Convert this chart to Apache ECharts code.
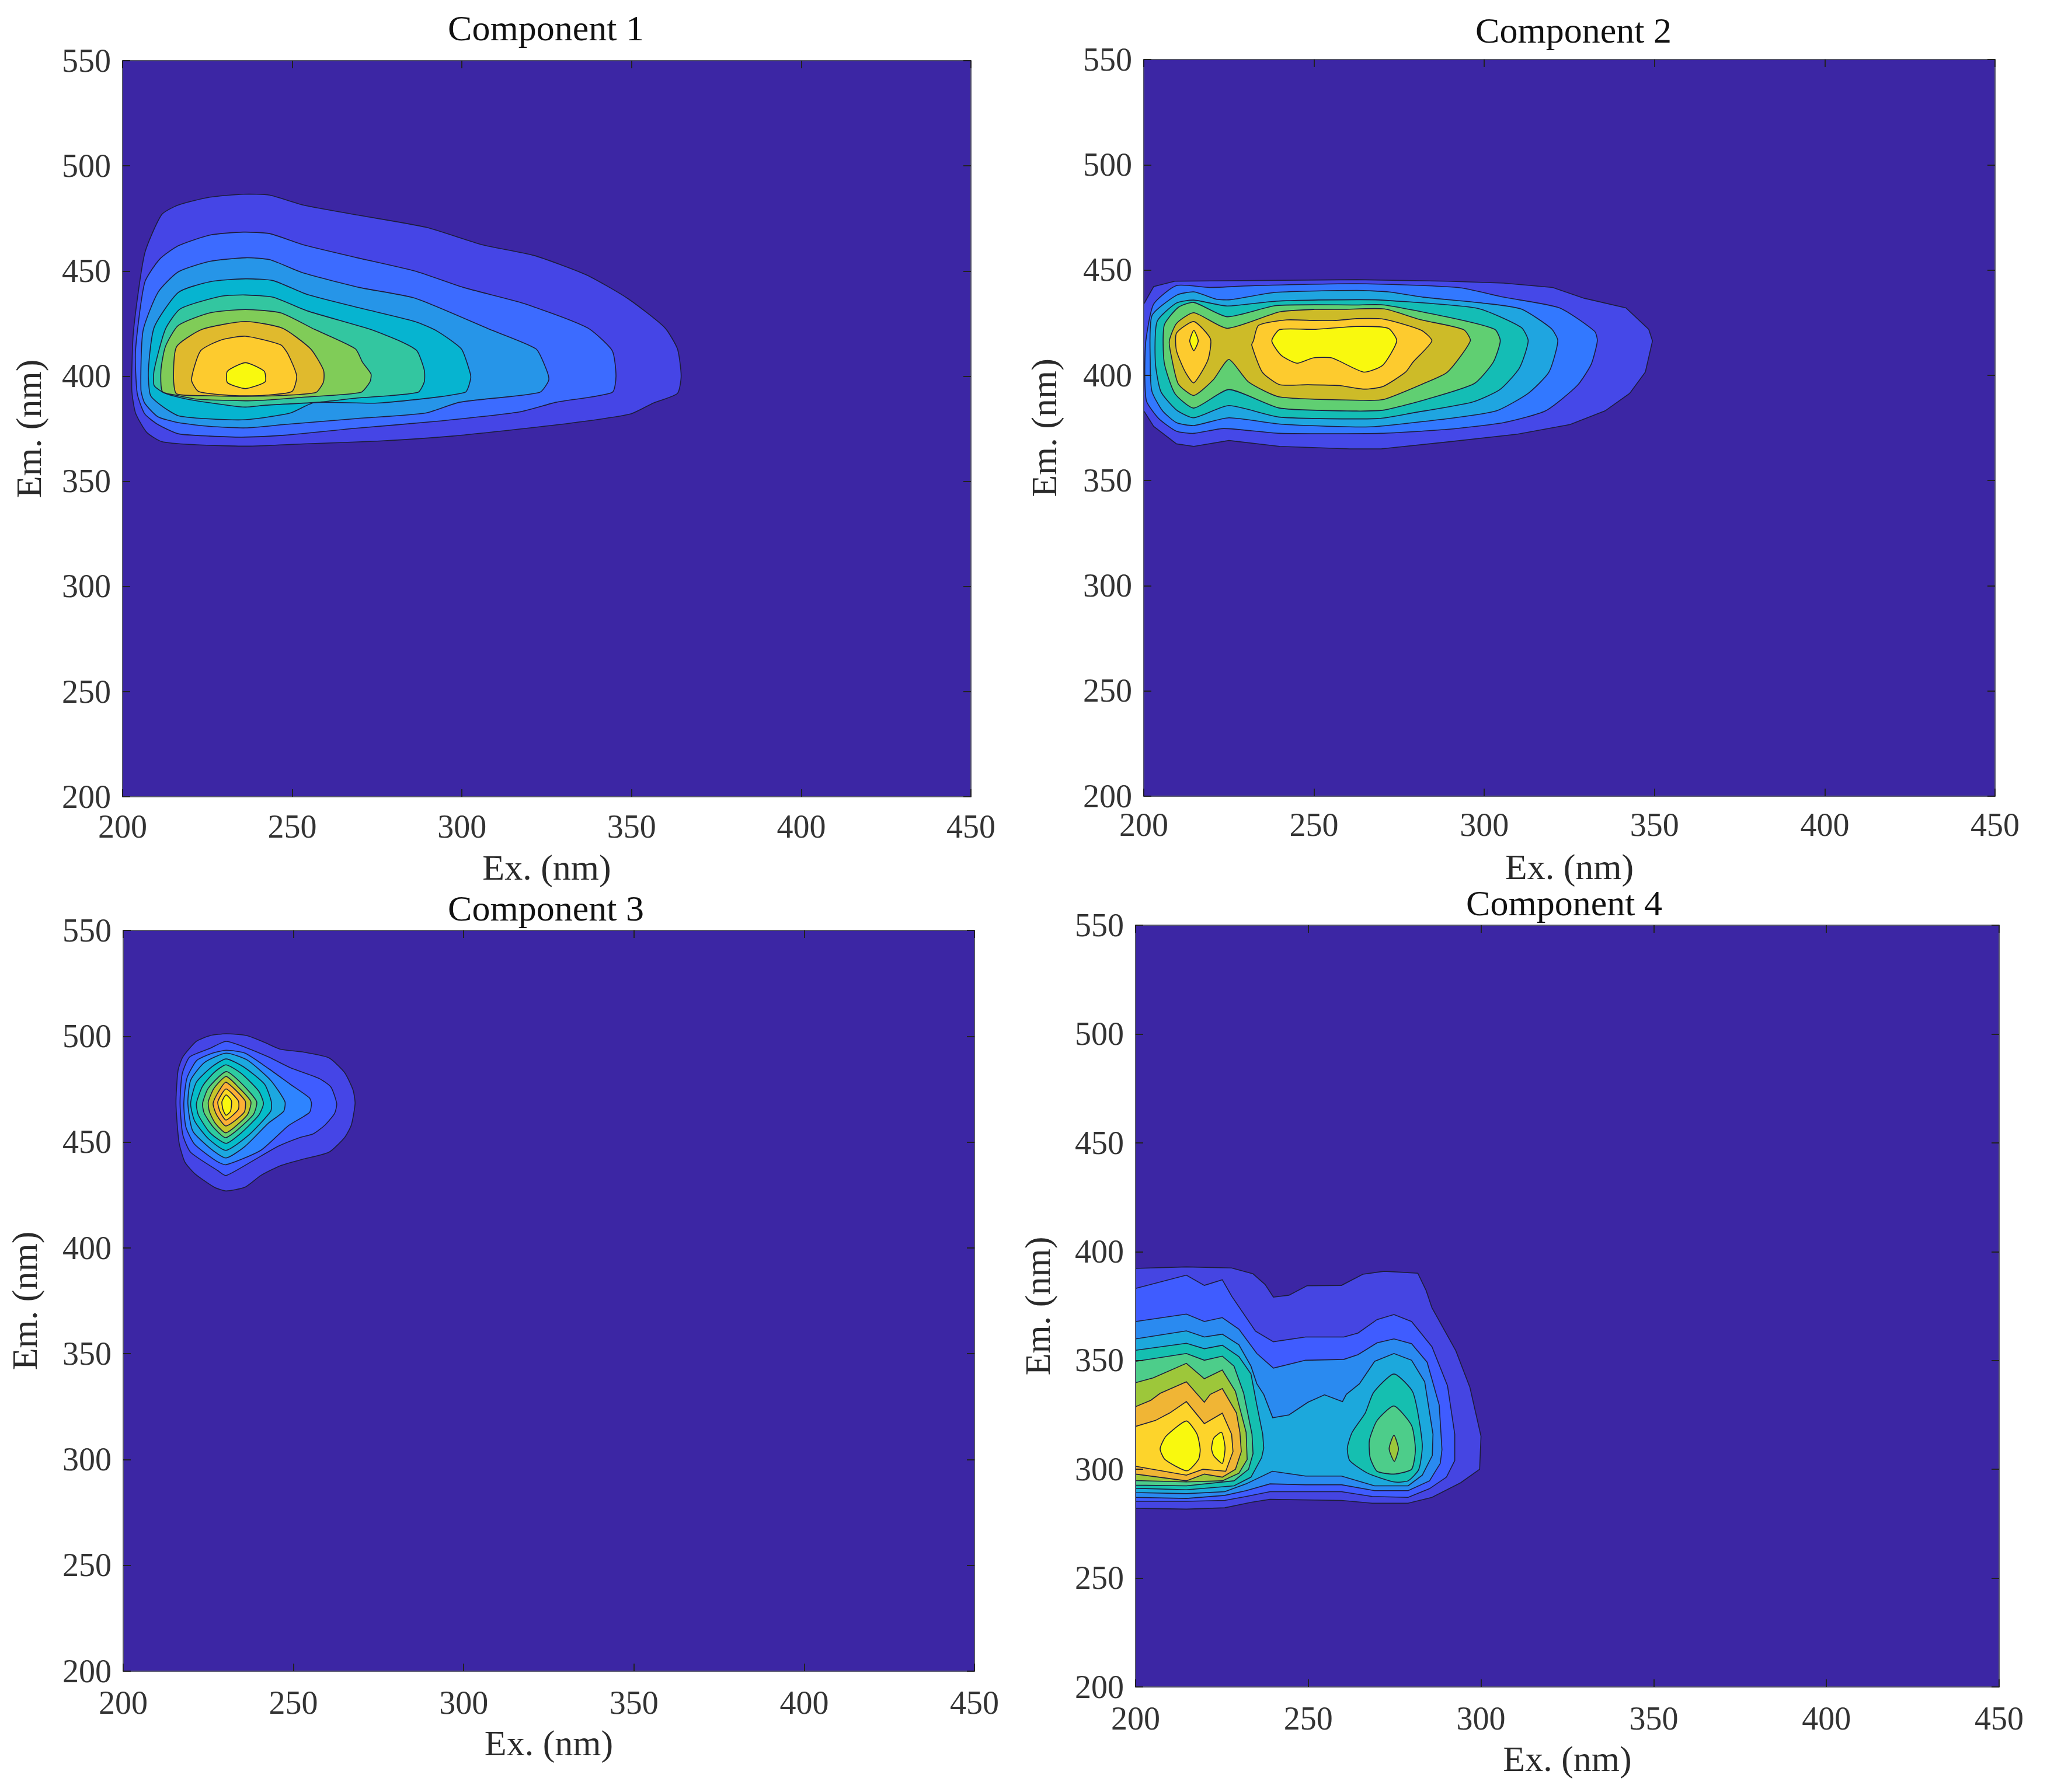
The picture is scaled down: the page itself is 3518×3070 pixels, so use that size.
<!DOCTYPE html>
<html><head><meta charset="utf-8">
<style>html,body{margin:0;padding:0;background:#fff}#c{width:3518px;height:3070px}</style>
<script src="https://cdn.jsdelivr.net/npm/echarts@6/dist/echarts.min.js"></script>
</head><body><div id="c"></div>
<script>
const titles=['Component 1','Component 2','Component 3','Component 4'];
const exRange=[200,450], emRange=[200,550], tickStep=50;

// Contour outlines as [Ex nm, Em nm]. Component 1
const c1L1=[[235.6,486.5],[243.3,486.1],[253.2,481.4],[268.6,476.8],[289.4,470.8],[305.9,462.5],[321.2,457.4],[336.6,448.2],[348.7,437.1],[359.7,423.2],[363.5,413],[364.6,400.1],[363.5,391.8],[356.4,387.2],[349.8,382.1],[335.5,378.4],[319,375.2],[297.1,371.5],[275.1,369.1],[253.2,367.8],[236.7,366.7],[220.3,367.5],[211.5,368.9],[207.1,373.3],[203.8,382.5],[202.7,393.6],[203.2,421.4],[206.5,458.3],[211.5,476.8],[216.4,481.4],[225.7,485.1]];
const c1L2=[[235.6,468.5],[243.3,467.8],[253.2,462.5],[268.6,456.5],[286.1,450],[300.4,442.2],[316.9,435.2],[330,427.8],[337.7,422.3],[344.3,412.1],[345.4,400.1],[344.3,392.3],[327.8,387.6],[316.9,383],[291.6,378.4],[268.6,375.2],[247.7,371.9],[235.6,371],[225.7,371.5],[216.4,372.6],[210.4,377],[206.5,382.1],[204.3,391.8],[203.8,412.1],[206.5,444.5],[210.9,455.6],[216.4,462],[225.7,467.1]];
const c1L3=[[236.2,456.3],[243.3,455.4],[253.2,449.1],[269.7,442.2],[286.1,437.1],[308.1,422.3],[321.8,413],[324.5,404.7],[325.6,398.3],[322.9,392.3],[299.3,387.6],[289.4,382.5],[268.6,379.8],[247.7,377],[236.2,375.4],[225.7,376.1],[216.4,377.9],[210.4,380.7],[206.5,387.2],[205.4,393.6],[206,421.4],[210.4,439.8],[216.4,449.6],[225.7,454.6]];
const c1L4=[[236.2,446.3],[244.4,445.4],[254.3,438.9],[269.7,432.5],[286.1,426],[292.7,421.4],[299.8,413],[302,403.8],[302.6,399.2],[300.9,392.3],[275.1,387.2],[256.5,387.4],[249.3,382.4],[236.2,379.3],[224.6,379.8],[216.4,381.2],[212,385.3],[208.2,390.9],[207.6,402.9],[209.3,423.2],[216.4,439.8],[225.7,444.9]];
const c1L5=[[236.2,438.6],[244.4,437.5],[254.3,431.1],[272.9,422.3],[281.7,416.7],[286.7,412.1],[288.9,402.9],[288.9,397.3],[287,392.3],[268.6,389.5],[257.6,387.6],[242.2,386.2],[236.2,385.3],[231.2,386.1],[219.2,389],[212.6,391.8],[209.3,395.5],[209.3,402.9],[212.6,422.3],[217,432],[229,438]];
const c1L6=[[236.2,431.7],[246.6,430.1],[256.5,422.3],[268.6,413],[270.7,406.6],[273.2,401],[272.9,397.3],[270.2,392.3],[253.2,390],[242.2,388.6],[236.2,388.3],[222.4,389],[215.9,390.9],[211.7,392.7],[211.3,402.9],[212.6,414],[216.4,424.1],[225.7,430.1]];
const c1L7=[[236.2,426],[247.1,422.8],[255.4,413],[259.2,402.9],[259.2,397.3],[257,392.3],[247.7,390.9],[236.2,390.4],[225.7,390.7],[215.9,391.6],[215,399.2],[215.9,414],[223.5,422.3]];
const c1L8=[[236.2,419],[246.6,414.9],[248.8,410.3],[251.3,400.1],[249.9,392.7],[241.7,390.9],[236.2,390.7],[231.2,390.9],[222.4,392.7],[220.3,398.3],[223,412.1],[229,417.2]];
const c1L9=[[236.2,406.4],[241.7,402.4],[242,397.3],[236.2,394.1],[230.9,396.9],[230.9,402.4]];

// Component 2
const c2L1=[[200,433.8],[202.9,442.1],[209.1,444.7],[262.5,445.4],[289.2,444.7],[305.7,443.8],[320.1,441.7],[329.3,436.6],[341.6,432],[348.3,421.8],[349.4,416.3],[347.3,401.5],[342.7,391.4],[335.5,383.1],[325.2,376.6],[309.8,372],[289.2,368.3],[269.7,365],[260.5,365],[239.9,366.2],[225,369],[214.7,366.2],[209.6,367.4],[202.9,375.7],[200,383.1]];
const c2L2=[[209.6,442.6],[219.3,441.7],[232.7,442.6],[262.5,443.5],[292.3,441.7],[305.7,437.1],[322.1,432],[332.4,420.9],[333.2,416.3],[331.4,405.2],[327.3,395.1],[318,383.1],[305.7,377.5],[289.2,374.3],[269.7,372.4],[239.9,372.4],[223.5,374.7],[214.7,372.4],[209.6,373.4],[204.4,379.4],[200.8,387.7],[200.3,400.6],[200.6,416.3],[202.9,433.8]];
const c2L3=[[209.6,438],[214.7,439.6],[221.4,436.1],[225.5,435.9],[238.9,439.4],[262.5,440.3],[271.8,439.6],[282.1,437.1],[299.5,434.3],[310.8,431.5],[319.6,422.3],[321.6,416.3],[319,401.5],[312.9,391.4],[303.6,383.1],[291.3,379.8],[268.7,375.7],[260.5,375.5],[239.9,376.8],[225,379.8],[214.7,376.1],[209.6,377.5],[205.5,383.1],[202.4,392.3],[201.9,406.1],[202.4,428.3]];
const c2L4=[[209.6,434.3],[214.7,435.7],[224.5,432.9],[238.9,435.2],[262.5,435.9],[271.8,435.5],[298,431.8],[310.8,422.8],[312.9,416.3],[310.3,403.4],[304.6,393.2],[296.4,387.2],[279,382.1],[268.7,379.4],[239.9,380.1],[225,385.6],[214.7,379.8],[209.6,383.5],[205,392.3],[203.4,406.1],[203.9,425.5]];
const c2L5=[[210.1,432.2],[214.7,434.6],[224.5,427.8],[238.9,433.1],[262.5,433.4],[270.7,433.4],[292.3,426.6],[303.1,421.8],[304.7,416.3],[302.6,406.1],[297,396],[283.1,388.6],[270.7,383.5],[262.5,383],[239.9,384.4],[225,393.2],[214.7,384.4],[209.1,391.4],[206,406.1],[206,423.7]];
const c2L6=[[214.7,429.7],[224.5,422.3],[239.9,430.1],[250.2,431.3],[258.4,431.3],[270.7,431.5],[281,426.5],[293.9,421.7],[295.9,416.3],[289.2,401.5],[282.1,396],[270.7,388.6],[264.6,388.1],[239.9,389.7],[230.7,396.9],[225,407.5],[220.4,397.8],[214.7,390.4],[210.1,396],[208,409.8],[207.5,416.3],[209.6,424.6]];
const c2L7a=[[214.7,425.5],[219.6,417.2],[218.8,407.1],[214.7,396.4],[212.2,401.5],[209.6,411.7],[209.6,420]];
const c2L7b=[[232.2,416.3],[233.7,423.7],[242,426.3],[250.2,426],[256.3,426],[262.5,426.9],[270.7,426.6],[281.5,421.4],[284.6,416.3],[279,406.1],[276.9,401.5],[270.2,394.6],[264.6,393.4],[257.4,395.1],[248.1,395.5],[239.9,395.5],[234.8,401.5],[231.7,414.4]];
const c2L8a=[[214.7,421.4],[216,416.3],[214.7,411.7],[213.5,416.3]];
const c2L8b=[[239.9,421.7],[250.2,421.8],[262.5,423.2],[271.8,422.3],[274.3,416.3],[270.2,404.8],[264.6,401.5],[255.3,408.2],[249.7,408.2],[245,405.7],[240.4,409.4],[237.6,416.3]];

// Component 3
const c3L1=[[230.2,501.2],[236.4,500.3],[241.5,497.1],[246.1,493.9],[253,492.5],[260.4,489.8],[265,482.9],[267.5,474.6],[268.1,468.2],[267,458.1],[265,452.1],[260.4,445.2],[253,442],[246.1,438.8],[240.4,434.2],[235.8,428.7],[230.2,426.9],[226.7,428.7],[221,435.1],[218.1,440.6],[216.4,449.8],[215.5,468.2],[216.1,483.8],[217.5,490.2],[221.5,497.6],[225.5,500.3]];
const c3L2=[[230.2,497.6],[235.8,494.8],[242.7,490.2],[249,485.2],[257.5,480.1],[261,476],[262.7,468.2],[262.1,463.6],[259.3,458.1],[255.8,453.9],[251.8,452.1],[245.5,448],[237.5,440.6],[230.2,434.2],[227.8,436.5],[219.8,445.2],[217.5,453.5],[216.7,468.2],[217.3,482],[219.5,490.2],[225.5,494.3]];
const c3L3=[[230.2,493.4],[235.8,492],[242.7,484.7],[249,477.4],[254.7,470.9],[255.3,468.2],[254.7,464],[248.4,457.6],[240.4,446.1],[230.2,439.3],[227.3,441.1],[221,448.9],[218.4,457.2],[217.8,468.2],[218.7,480.1],[221.5,488.4],[225.5,491.6]];
const c3L4=[[230.2,492],[236.4,488.8],[243.3,479.2],[247.5,469.1],[247.1,464.5],[242.7,459],[235.8,448],[230.2,442.5],[225.5,447.1],[220.4,455.3],[219,468.2],[219.8,479.2],[223.8,487.5]];
const c3L5=[[230.2,489.3],[235.3,485.6],[241.5,477.4],[243.5,469.1],[243.3,464.5],[237,453.5],[230.2,446.1],[225,451.6],[221,459.9],[219.8,468.2],[221.5,478.3],[226.1,485.6]];
const c3L6=[[230.2,486.5],[234.7,482.4],[239.8,474.1],[241.2,468.2],[239.8,462.7],[234.7,454.4],[230.2,449.4],[225.5,454.4],[222.1,462.7],[221.5,468.2],[223.3,476.4],[226.7,482.9]];
const c3L7=[[230.2,483.3],[234.7,477.8],[239.2,469.1],[238.1,462.7],[230.2,452.1],[226.4,457.2],[223.8,463.6],[223.3,468.2],[225,475.5]];
const c3L8=[[230.2,481],[233.8,476],[237.5,469.1],[236.4,462.7],[230.2,454.4],[227,459],[225.3,464.5],[225,469.1],[226.7,475.5]];
const c3L9=[[230.2,478.3],[235.8,469.5],[235.5,464],[230.2,457.6],[227.5,462.7],[226.4,468.2],[228.1,474.1]];
const c3L10=[[230.2,475.1],[233.8,469.5],[233.8,465.4],[230.2,460.4],[228.4,464.5],[227.8,469.1]];
const c3L11=[[230.2,472.3],[231.8,469.5],[231.5,464.5],[230.2,462.7],[229.3,465.4],[229,469.1]];

// Component 4
const c4L1=[[200,392.3],[214.7,393],[227.8,392.5],[234,389.8],[237.5,384.9],[239.9,379.1],[244.4,380],[249.6,384.3],[259.6,384.5],[265.8,389.6],[272,391],[281.7,390.1],[284.1,382.2],[285.8,374.2],[292.7,354.5],[296.8,337.6],[300,315.2],[299.6,300],[294.1,293.8],[285.8,287.1],[278.9,284.4],[268.5,284.4],[259.6,285.7],[238.9,286.2],[233.4,284.8],[225.8,282.3],[214.7,281.7],[200,282.1]];
const c4L2=[[200,383.1],[214.7,389.2],[219.9,384.5],[225.1,387.1],[227.8,379.6],[234.7,363.5],[239.9,358.6],[249.2,360.8],[260.3,360.8],[264.4,362.6],[269.9,368.8],[274.8,371.1],[279.9,367.9],[285.8,356.3],[290.3,338.4],[292.4,316.1],[292.4,304],[290,296.4],[285.1,291.1],[278.9,287.1],[268.5,287.5],[259.6,289.7],[238.9,289.7],[232,287.5],[225.8,285.7],[214.7,285.3],[200,285.3]];
const c4L3=[[200,367.9],[214.7,371.3],[219.9,367.9],[225.1,369.7],[229.9,364.4],[235.1,353.2],[239.9,346.5],[249.2,350.1],[260.3,350.5],[264.4,352.7],[269.9,358.1],[274.8,359.9],[279.9,357.7],[284.4,349.2],[287.9,329.5],[288.7,309],[288.2,302.7],[285.1,294.7],[278.9,290.2],[269.2,290.2],[259.6,292.9],[249.2,292.9],[238.9,293.3],[232,290.2],[225.8,288],[214.7,286.6],[200,287.1]];
const c4L4=[[200,359.9],[214.7,363.6],[219.9,360.8],[225.1,362.1],[229.9,357.2],[233.4,347.4],[235.1,339.3],[237.1,334.4],[239.7,323.7],[244.4,325],[249.9,330.8],[254.7,334.2],[259.9,331.1],[261,334.4],[264.8,339.3],[269.2,349.6],[274.8,353.2],[279.9,350.1],[283.7,340.2],[286.1,316.1],[285.9,306.3],[283,297.3],[278.9,292.4],[269.2,292.4],[259.6,296.9],[249.2,296.9],[239.6,299.1],[232,293.3],[225.8,289.7],[214.7,288.8],[200,289.3]];
const c4L5a=[[200,354.7],[214.7,357.9],[219.9,355.4],[225.1,357],[229.9,351.8],[233.4,343.8],[235.1,329.5],[236.8,316.1],[237.1,309.8],[236.5,305.4],[233.4,296.4],[228.5,292.4],[214.7,290.6],[200,291.3]];
const c4L5b=[[274.8,343.8],[280.3,335.3],[283,311.6],[282,300],[278.9,294.7],[274.8,294.2],[267.2,298.2],[262,304],[261.3,309.8],[262.7,317],[266.5,325.9],[268.9,335.3]];
const c4L6a=[[200,349.6],[214.7,353.2],[219.9,350.1],[225.1,352],[228.5,347.4],[231.3,334.9],[233.7,316.1],[234,307.2],[232.7,300],[228.5,294.7],[214.7,292.4],[200,292.7]];
const c4L6b=[[274.8,329.1],[279.9,320.1],[281,309],[279.9,300],[274.8,297.8],[269.9,299.1],[267.9,305.4],[267.7,313.4],[269.9,322.4]];
const c4L7a=[[200,339.8],[205.1,342],[214.7,348.7],[219.9,341.6],[225.1,345.6],[228.9,335.8],[232,317],[232.3,304.5],[229.9,298.2],[225.1,294.7],[214.7,294.2],[200,294.8]];
const c4L7b=[[274.8,315.7],[276.1,309.4],[274.9,303.6],[273.4,309.4]];
const c4L8=[[200,328.8],[204.4,331.7],[207.1,334.9],[214.7,340.2],[219.9,330.8],[221.6,334.4],[225.1,337.1],[229.2,325.9],[230.2,317],[230.6,308.1],[228.9,300],[225.1,296.4],[219.9,297.8],[214.7,294.7],[200,297.8]];
const c4L9=[[200,319.7],[205.7,322.4],[209.9,325.9],[214.7,331.1],[219.9,321],[225.1,325.8],[227.8,316.1],[228.2,308.1],[226.1,299.1],[219.5,300],[214.7,297.3],[200,301.4]];
const c4L10a=[[214.7,322.2],[217.8,316.1],[218.7,309],[218.2,304.5],[214.9,299.3],[208.5,304.5],[207.1,309.4],[208.8,315.2]];
const c4L10b=[[224.9,317],[225.9,309.8],[225.1,302.7],[222.6,306.3],[222,309.4],[222.6,314.3]];

const levels1=[c1L1,c1L2,c1L3,c1L4,c1L5,c1L6,c1L7,c1L8,c1L9];
const colors1=['#4545E6','#3C6BFF','#2695E8','#06B4D0','#33C6A0','#80CC58','#E0BA2D','#FDCB2E','#F9F90E'];
const levels2=[c2L1,c2L2,c2L3,c2L4,c2L5,c2L6,c2L7a,c2L7b,c2L8a,c2L8b];
const colors2=['#4548E8','#3278FF','#1FA5E0','#14BDB5','#60CF72','#CDBB28','#FDCB2E','#FDCB2E','#F9F90E','#F9F90E'];
const levels3=[c3L1,c3L2,c3L3,c3L4,c3L5,c3L6,c3L7,c3L8,c3L9,c3L10,c3L11];
const colors3=['#4545E6','#3F5CFF','#2E84FF','#1CA8E0','#05BDC9','#2ECCA0','#66D070','#C5C52A','#FDB035','#FAD823','#F9F90E'];
const levels4=[c4L1,c4L2,c4L3,c4L4,c4L5a,c4L5b,c4L6a,c4L6b,c4L7a,c4L7b,c4L8,c4L9,c4L10a,c4L10b];
const colors4=['#4545E2','#3F5CFF','#2A8AF0','#1CA8DC','#15BFB0','#15BFB0','#4DCD8A','#4DCD8A','#9DC73A','#9DC73A','#F0B535','#FDD42B','#F9F90E','#F9F90E'];

const panels=[
 {box:[210,104,1453,1261],levels:levels1,colors:colors1,title:[930,48],exGap:95,emGap:125,lab:27},
 {box:[1959,102,1458,1262],levels:levels2,colors:colors2,title:[2690,52],exGap:95,emGap:135,lab:25},
 {box:[211,1594,1458,1269],levels:levels3,colors:colors3,title:[930,1556],exGap:97,emGap:133,lab:30},
 {box:[1945,1585,1479,1305],levels:levels4,colors:colors4,title:[2674,1547],exGap:97,emGap:132,lab:30}
];
const serif='"Liberation Serif","Times New Roman",serif';
const BG='#3C26A4', INK='#2a2a2a', EDGE='#55556a';
const fontLab=56, fontTitle=62;

function baseAxis(extent,extra){
  return Object.assign({type:'value',min:extent[0],max:extent[1],interval:tickStep,z:20,silent:true,
    splitLine:{show:false},
    axisLine:{show:true,onZero:false,lineStyle:{color:EDGE,width:2}},
    axisTick:{show:true,inside:true,length:13,lineStyle:{color:'#222',width:2}},
    axisLabel:{show:false}},extra);
}
const grid=[],xAxis=[],yAxis=[],series=[],title=[];
panels.forEach((p,i)=>{
  grid.push({left:p.box[0],top:p.box[1],width:p.box[2],height:p.box[3],show:true,backgroundColor:BG,borderWidth:0});
  xAxis.push(baseAxis(exRange,{gridIndex:i,position:'bottom',name:'Ex. (nm)',nameLocation:'middle',nameGap:p.exGap,
    nameTextStyle:{fontFamily:serif,fontSize:fontTitle,color:INK},
    axisLabel:{show:true,fontFamily:serif,fontSize:fontLab,color:'#333',margin:p.lab}}));
  xAxis.push(baseAxis(exRange,{gridIndex:i,position:'top'}));
  yAxis.push(baseAxis(emRange,{gridIndex:i,position:'left',name:'Em. (nm)',nameLocation:'middle',nameGap:p.emGap,
    nameTextStyle:{fontFamily:serif,fontSize:fontTitle,color:INK},
    axisLabel:{show:true,fontFamily:serif,fontSize:fontLab,color:'#333',margin:20,verticalAlign:'top',lineHeight:8}}));
  yAxis.push(baseAxis(emRange,{gridIndex:i,position:'right'}));
  series.push({type:'custom',coordinateSystem:'cartesian2d',xAxisIndex:i*2,yAxisIndex:i*2,clip:true,silent:true,z:5,
    data:p.levels.map((_,k)=>[k]),
    renderItem:function(params,api){
      const k=api.value(0), pts=p.levels[k];
      const onEdge=pts.some(pt=>pt[0]===exRange[0]);
      return {type:'polygon',shape:{points:pts.map(pt=>api.coord(pt)),smooth:onEdge?0:0.2},
        style:{fill:p.colors[k],stroke:'#1d1d3c',lineWidth:1.6}};
    }});
  title.push({text:titles[i],left:p.title[0],top:p.title[1],textAlign:'center',textVerticalAlign:'middle',
    textStyle:{fontFamily:serif,fontSize:fontTitle,fontWeight:'normal',color:'#111'}});
});
const chart=echarts.init(document.getElementById('c'),null,{renderer:'canvas'});
chart.setOption({animation:false,backgroundColor:'#fff',title,grid,xAxis,yAxis,series,tooltip:{show:false}});
</script></body></html>
